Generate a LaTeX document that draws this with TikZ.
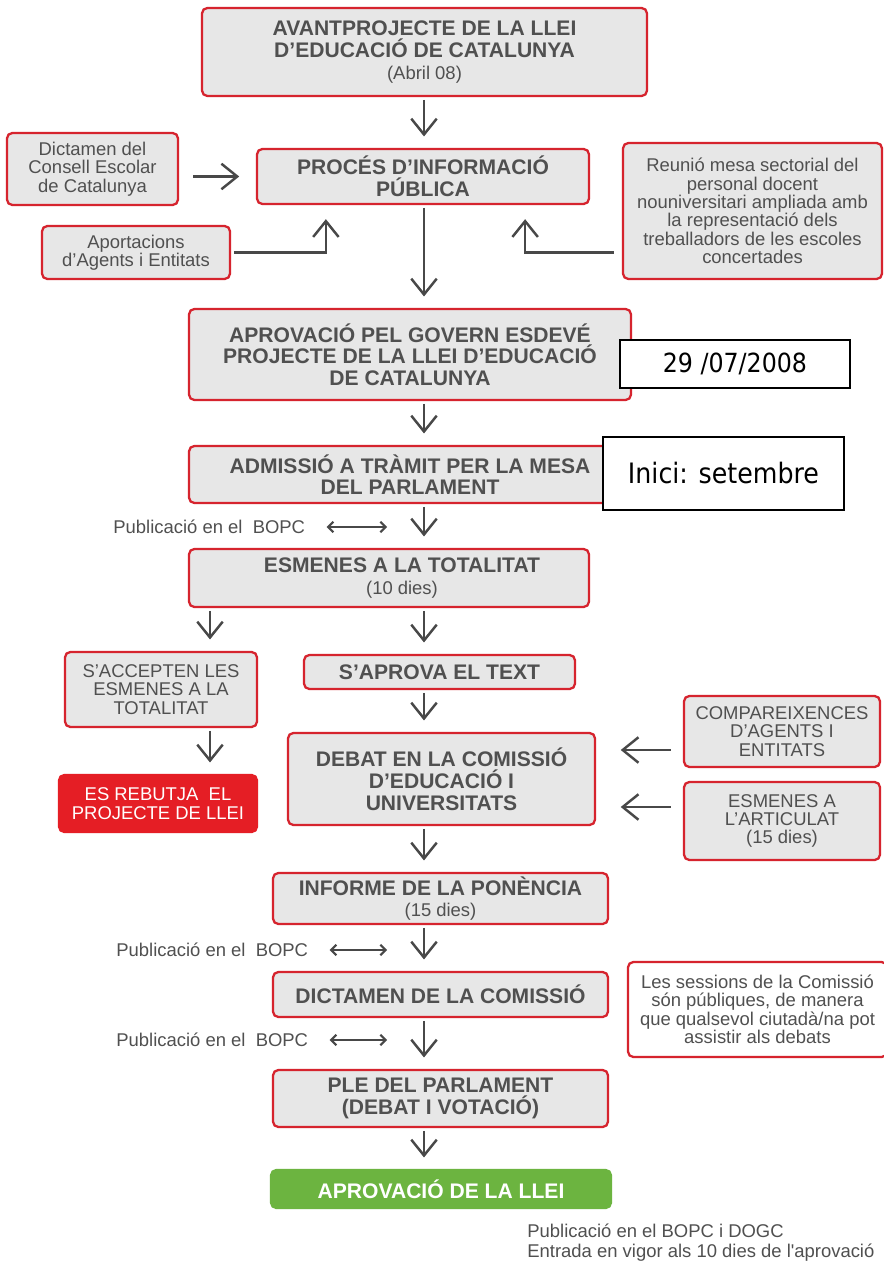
\documentclass[tikz,border=0pt]{standalone}
\usepackage{fontspec}
\setmainfont{Liberation Sans}
\newfontfamily\stampfont{DejaVu Sans}[FakeStretch=0.9]
\usepackage{tikz}
\usetikzlibrary{arrows.meta}
\definecolor{lleired}{RGB}{214,36,46}
\definecolor{lleigray}{RGB}{231,231,231}
\definecolor{lleitext}{RGB}{80,80,80}
\definecolor{lleiarrow}{RGB}{72,72,72}
\definecolor{rebutjared}{RGB}{229,30,37}
\definecolor{lleigreen}{RGB}{108,180,64}
\newcommand{\dies}[1]{{\mdseries\fontsize{10.5}{12}\selectfont#1}}

\begin{document}
\begin{tikzpicture}[
    x=0.02cm, y=-0.02cm,
    >={Straight Barb[length=9pt,width=14.5pt]},
    stage/.style={draw=lleired, fill=lleigray, line width=1.3pt,
        rounded corners=3pt, inner sep=0pt, align=center, text=lleitext,
        font=\fontsize{12}{12.3}\selectfont\bfseries},
    aside/.style={stage, font=\fontsize{10.5}{10.5}\selectfont},
    stamp/.style={draw=black, fill=white, line width=0.9pt, inner sep=0pt,
        font=\stampfont\fontsize{15}{18}\selectfont},
    flow/.style={->, draw=lleiarrow, line width=1.4pt,
        shorten <=1.5pt, shorten >=6.5pt},
    bopc/.style={text=lleitext, inner sep=0pt,
        font=\fontsize{10.5}{11.4}\selectfont},
    bothways/.style={{Straight Barb[length=3pt,width=6pt]}-{Straight Barb[length=3pt,width=6pt]},
        draw=lleiarrow, line width=1.2pt},
    ]

    % page
    \fill[white] (0,0) rectangle (884,1263);
    \useasboundingbox (0,0) rectangle (884,1263);

    % spine of the diagram
    \coordinate (spine) at (424,0);
    \coordinate (branch) at (210,0);

    % avantprojecte
    \node[stage, minimum width=8.9cm, minimum height=1.76cm] (avant) at (424.5,52)
        {AVANTPROJECTE DE LA LLEI\\D’EDUCACIÓ DE CATALUNYA\\\dies{(Abril 08)}};

    % informacio publica
    \node[stage, minimum width=6.64cm, minimum height=1.1cm] (proces) at (423,176.5)
        {PROCÉS D’INFORMACIÓ\\PÚBLICA};
    \node[aside, minimum width=3.42cm, minimum height=1.44cm] (dictamen) at (92.5,169)
        {Dictamen del\\Consell Escolar\\de Catalunya};
    \node[aside, minimum width=3.76cm, minimum height=1.06cm] (aportacions) at (136,252.5)
        {Aportacions\\d’Agents i Entitats};
    \node[aside, minimum width=5.18cm, minimum height=2.72cm] (reunio) at (752.5,211)
        {Reunió mesa sectorial del\\personal docent\\nouniversitari ampliada amb\\la representació dels\\treballadors de les escoles\\concertades};

    % govern
    \node[stage, minimum width=8.84cm, minimum height=1.82cm] (aprovgov) at (410,354.5)
        {APROVACIÓ PEL GOVERN ESDEVÉ\\PROJECTE DE LA LLEI D’EDUCACIÓ\\DE CATALUNYA};
    \node[stamp, minimum width=4.6cm, minimum height=0.96cm] (fecha) at (735,364)
        {29 /07/2008};

    % parlament
    \node[stage, minimum width=8.84cm, minimum height=1.14cm] (admissio) at (410,474.5)
        {ADMISSIÓ A TRÀMIT PER LA MESA\\DEL PARLAMENT};
    \node[stamp, minimum width=4.82cm, minimum height=1.46cm,
        font=\stampfont\fontsize{16}{18}\selectfont] (inici) at (723.5,473.5)
        {Inici: setembre};
    \node[bopc, anchor=west] (bopcA) at (113,527) {Publicació en el\ \ BOPC};

    \node[stage, minimum width=8cm, minimum height=1.16cm] (esmenes) at (389,578)
        {\hspace*{0.52cm}ESMENES A LA TOTALITAT\\\hspace*{0.52cm}\dies{(10 dies)}};

    % branch
    \node[aside, minimum width=3.84cm, minimum height=1.5cm] (accepten) at (161,689.5)
        {S’ACCEPTEN LES\\ESMENES A LA\\TOTALITAT};
    \node[aside, draw=rebutjared, fill=rebutjared, text=white,
        minimum width=3.96cm, minimum height=1.14cm] (rebutja) at (158,803.5)
        {ES REBUTJA\ \ EL\\PROJECTE DE LLEI};
    \node[stage, minimum width=5.42cm, minimum height=0.68cm] (aprova) at (439.5,672)
        {S’APROVA EL TEXT};

    % comissio
    \node[stage, font=\fontsize{12}{12.6}\selectfont\bfseries,
        minimum width=6.14cm, minimum height=1.84cm] (debat) at (441.5,779)
        {DEBAT EN LA COMISSIÓ\\D’EDUCACIÓ I\\UNIVERSITATS};
    \node[aside, minimum width=3.92cm, minimum height=1.42cm] (compar) at (782,731.5)
        {COMPAREIXENCES\\D’AGENTS I\\ENTITATS};
    \node[aside, minimum width=3.92cm, minimum height=1.56cm] (esmart) at (782,821)
        {ESMENES A\\L’ARTICULAT\\(15 dies)};

    \node[stage, minimum width=6.7cm, minimum height=1.02cm] (informe) at (440.5,898.5)
        {INFORME DE LA PONÈNCIA\\\dies{(15 dies)}};
    \node[bopc, anchor=west] (bopcB) at (116,950) {Publicació en el\ \ BOPC};
    \node[stage, minimum width=6.7cm, minimum height=0.9cm] (dictcom) at (440.5,994.5)
        {DICTAMEN DE LA COMISSIÓ};
    \node[aside, fill=white, minimum width=5.18cm, minimum height=1.9cm] (sessions) at (757.5,1009.5)
        {Les sessions de la Comissió\\són públiques, de manera\\que qualsevol ciutadà/na pot\\assistir als debats};
    \node[bopc, anchor=west] (bopcC) at (116,1040) {Publicació en el\ \ BOPC};

    % ple
    \node[stage, minimum width=6.7cm, minimum height=1.14cm] (ple) at (440.5,1098.5)
        {PLE DEL PARLAMENT\\(DEBAT I VOTACIÓ)};
    \node[stage, draw=lleigreen, fill=lleigreen, text=white,
        minimum width=6.8cm, minimum height=0.76cm] (llei) at (441,1189)
        {APROVACIÓ DE LA LLEI};
    \node[bopc, anchor=north west, align=left] (vigor) at (527,1224)
        {Publicació en el BOPC i DOGC\\Entrada en vigor als 10 dies de l\textquotesingle aprovació};

    % main line
    \draw[flow] (avant.south -| spine) -- (proces.north -| spine);
    \draw[flow] (proces.south -| spine) -- (aprovgov.north -| spine);
    \draw[flow] (aprovgov.south -| spine) -- (admissio.north -| spine);
    \draw[flow] (admissio.south -| spine) -- (esmenes.north -| spine);
    \draw[flow] (esmenes.south -| spine) -- (aprova.north -| spine);
    \draw[flow] (aprova.south -| spine) -- (debat.north -| spine);
    \draw[flow] (debat.south -| spine) -- (informe.north -| spine);
    \draw[flow] (informe.south -| spine) -- (dictcom.north -| spine);
    \draw[flow] (dictcom.south -| spine) -- (ple.north -| spine);
    \draw[flow] (ple.south -| spine) -- (llei.north -| spine);

    % rejected branch
    \draw[flow] (esmenes.south -| branch) -- (accepten.north -| branch);
    \draw[flow] (accepten.south -| branch) -- (rebutja.north -| branch);

    % inputs
    \draw[flow, shorten <=8pt, shorten >=9.5pt] (dictamen.east |- proces.west) -- (proces.west);
    \draw[flow, shorten <=1.5pt, shorten >=8pt] (aportacions.east)
        -| ([xshift=1.4cm]proces.south west);
    \draw[flow, shorten <=4.5pt, shorten >=8pt] (reunio.west |- aportacions.east)
        -| ([xshift=-1.3cm]proces.south east);
    \coordinate (comparin) at ([yshift=-0.37cm]compar.west);
    \coordinate (esmartin) at ([yshift=0.28cm]esmart.west);
    \draw[flow, shorten <=7pt, shorten >=14pt] (comparin) -- (debat.east |- comparin);
    \draw[flow, shorten <=7pt, shorten >=14pt] (esmartin) -- (debat.east |- esmartin);

    % publicacions
    \draw[bothways, shorten <=12pt, shorten >=21pt] (bopcA.east) -- (bopcA.east -| spine);
    \draw[bothways, shorten <=12pt, shorten >=21pt] (bopcB.east) -- (bopcB.east -| spine);
    \draw[bothways, shorten <=12pt, shorten >=21pt] (bopcC.east) -- (bopcC.east -| spine);

\end{tikzpicture}
\end{document}
